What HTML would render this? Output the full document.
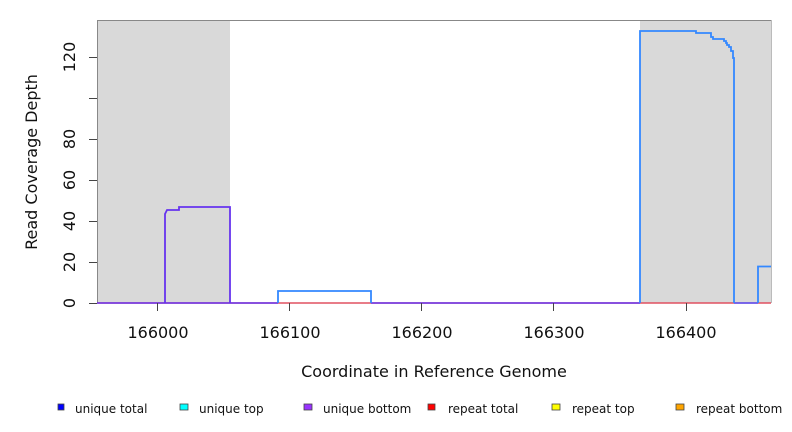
<!DOCTYPE html>
<html><head><meta charset="utf-8"><style>
body{margin:0;background:#fff;}
svg{display:block;font-family:"DejaVu Sans","Liberation Sans",sans-serif;}
</style></head><body>
<svg width="792" height="432" viewBox="0 0 792 432">
<rect x="97" y="20" width="133" height="283" fill="#d9d9d9"/>
<rect x="640" y="20" width="131" height="283" fill="#d9d9d9"/>
<line x1="97" y1="20.5" x2="771" y2="20.5" stroke="#888" stroke-width="1"/>
<line x1="771.5" y1="20" x2="771.5" y2="303" stroke="#bbb" stroke-width="1"/>
<line x1="97.5" y1="20" x2="97.5" y2="303" stroke="#888" stroke-width="1"/>
<!-- baselines -->
<line x1="97" y1="303" x2="771" y2="303" stroke="#e05060" stroke-width="1.5"/>
<line x1="97" y1="303" x2="278" y2="303" stroke="#6633ee" stroke-width="1.5"/>
<line x1="371" y1="303" x2="640" y2="303" stroke="#6633ee" stroke-width="1.5"/>
<line x1="734" y1="303" x2="758" y2="303" stroke="#5555ff" stroke-width="1.5"/>
<!-- left series -->
<polyline fill="none" stroke="#6633ee" stroke-width="1.8" points="165,303 165,214 166,212 167,210 179,210 179,207 230,207 230,303"/>
<!-- small rect -->
<polyline fill="none" stroke="#3388ff" stroke-width="1.8" points="278,303 278,291 371,291 371,303"/>
<!-- right -->
<polyline fill="none" stroke="#3388ff" stroke-width="1.8" points="640,303 640,31 696,31 696,33 711,33 711,37 713,37 713,39 724,39 724,41 726,41 726,43 727,43 727,45 729,45 729,47 731,47 731,51 733,51 733,58 734,58 734,303"/>
<polyline fill="none" stroke="#3388ff" stroke-width="1.8" points="758,303 758,266.5 771,266.5"/>
<!-- y axis ticks -->
<g stroke="#444" stroke-width="1">
<line x1="89" y1="303.5" x2="97" y2="303.5"/>
<line x1="89" y1="262.5" x2="97" y2="262.5"/>
<line x1="89" y1="221.5" x2="97" y2="221.5"/>
<line x1="89" y1="180.5" x2="97" y2="180.5"/>
<line x1="89" y1="139.5" x2="97" y2="139.5"/>
<line x1="89" y1="98.5" x2="97" y2="98.5"/>
<line x1="89" y1="57.5" x2="97" y2="57.5"/>
<line x1="157.5" y1="303" x2="157.5" y2="311"/>
<line x1="289.5" y1="303" x2="289.5" y2="311"/>
<line x1="421.5" y1="303" x2="421.5" y2="311"/>
<line x1="553.5" y1="303" x2="553.5" y2="311"/>
<line x1="686.5" y1="303" x2="686.5" y2="311"/>
</g>
<g font-size="16" fill="#111" text-anchor="middle">
<text transform="translate(75,303) rotate(-90)">0</text>
<text transform="translate(75,262) rotate(-90)">20</text>
<text transform="translate(75,221) rotate(-90)">40</text>
<text transform="translate(75,180) rotate(-90)">60</text>
<text transform="translate(75,139) rotate(-90)">80</text>
<text transform="translate(75,57) rotate(-90)">120</text>
<text x="158" y="338">166000</text>
<text x="290" y="338">166100</text>
<text x="422" y="338">166200</text>
<text x="554" y="338">166300</text>
<text x="686" y="338">166400</text>
<text x="434" y="377">Coordinate in Reference Genome</text>
<text transform="translate(37,162) rotate(-90)">Read Coverage Depth</text>
</g>
<g font-size="12" fill="#111" stroke="#444" stroke-width="0.8">
<rect x="58" y="404" width="6" height="6" fill="#0000ff"/>
<rect x="180" y="404" width="8" height="6" fill="#00ffff"/>
<rect x="304" y="404" width="8" height="6" fill="#9933ff"/>
<rect x="428" y="404" width="7" height="6" fill="#ff0000"/>
<rect x="552" y="404" width="8" height="6" fill="#ffff00"/>
<rect x="676" y="404" width="8" height="6" fill="#ffa500"/>
</g>
<g font-size="12" fill="#111">
<text x="75" y="413">unique total</text>
<text x="199" y="413">unique top</text>
<text x="323" y="413">unique bottom</text>
<text x="448" y="413">repeat total</text>
<text x="572" y="413">repeat top</text>
<text x="696" y="413">repeat bottom</text>
</g>
</svg>
</body></html>
